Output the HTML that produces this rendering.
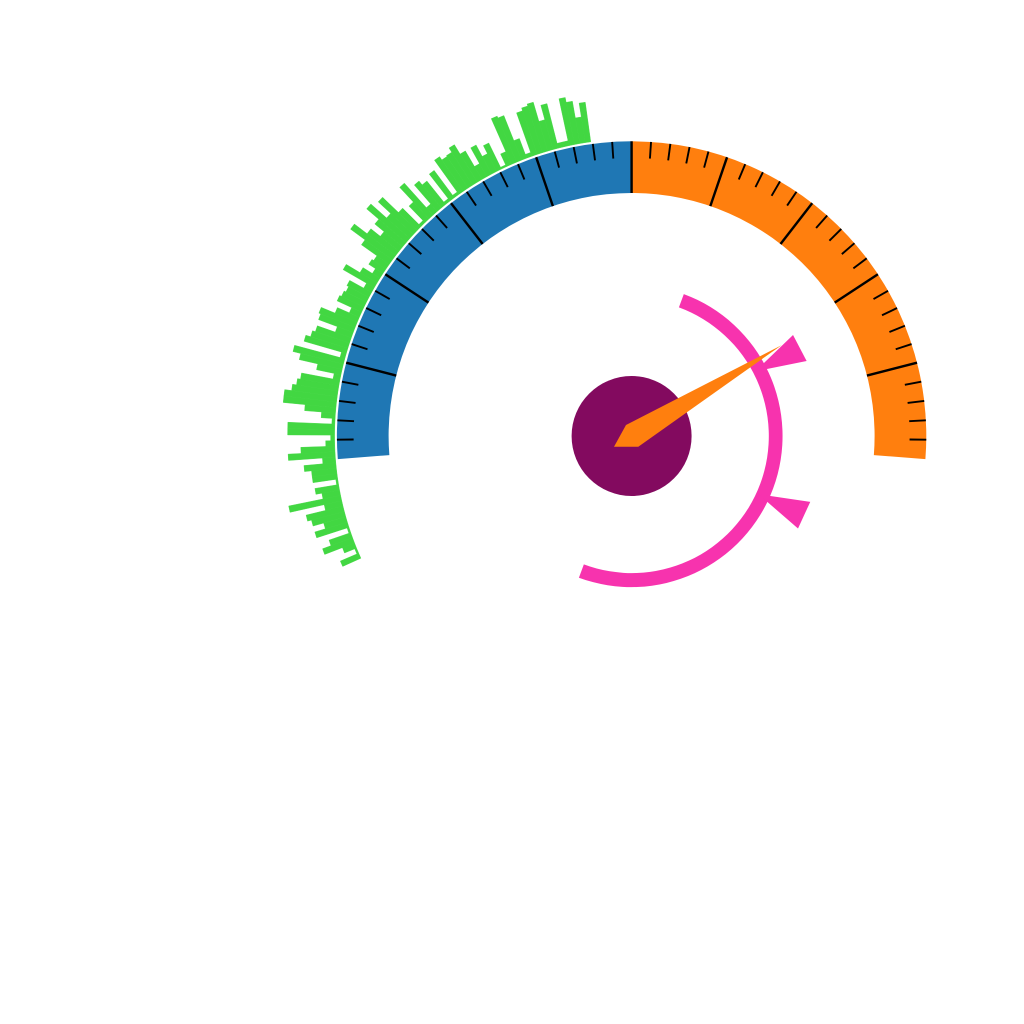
<!DOCTYPE html>
<html>
<head>
<meta charset="utf-8">
<title>Radial gauge</title>
<style>
html,body{margin:0;padding:0;background:#fff;}
svg{display:block;}
</style>
</head>
<body>
<svg id="chart" width="1024" height="1024" viewBox="0 0 1024 1024" xmlns="http://www.w3.org/2000/svg"></svg>
<script>
// ---- chart data ----
const gaugeSegments = [0, 25, 50];
const segmentNames = ['gauge-segment-blue', 'gauge-segment-orange'];
const majorTickEvery = [5];
const tickValues = [1,2,3,4,5,6,7,8,9,10,11,12,13,14,15,16,17,18,19,20,21,22,23,24,25,26,27,28,29,30,31,32,33,34,35,36,37,38,39,40,41,42,43,44,45,46,47,48,49];
const histogramHeights = [
  20,2,13,32,23,2,34,23,34,38,18,53,18,24,2,25,25,32,13,47,
  34,9,4,47,47,3,14,31,53,53,46,42,39,7,25,44,52,5,44,39,
  36,17,37,39,24,11,27,25,23,25,9,36,20,9,17,15,34,52,36,24,
  36,52,31,48,26,3,23,43,10,35,30,3,34,3,42,38,39,44,33,15,
  33,20,29,2,14,50,48,21,4,46,49,51,31,46,5,5,48,43,26,40
];
const innerArcRange = [-110.4, 69.8];
const markerAngles = [27.6, -24.65];
const needleAngle = [31.2];
const needleLength = [175.5];

// ---- scales ----
const cx = 631.6, cy = 436;
const gaugeStart = 184.5, gaugeStep = 3.78;
const histStart = 204.3, histStep = 1.064, histBase = 297;
function gaugeAngle(v){ return gaugeStart - v * gaugeStep; }
function histAngle(i){ return histStart - i * histStep; }
function histRadius(v){ return histBase + v; }
function px(r, deg){ return cx + r * Math.cos(deg * Math.PI / 180); }
function py(r, deg){ return cy - r * Math.sin(deg * Math.PI / 180); }
function pt(r, deg){ return px(r, deg).toFixed(2) + ' ' + py(r, deg).toFixed(2); }
function ringPath(r0, r1, a0, a1){
  const large = Math.abs(a1 - a0) > 180 ? 1 : 0;
  return 'M' + pt(r1, a0) + ' A' + r1 + ' ' + r1 + ' 0 ' + large + ' 1 ' + pt(r1, a1) +
         ' L' + pt(r0, a1) + ' A' + r0 + ' ' + r0 + ' 0 ' + large + ' 0 ' + pt(r0, a0) + ' Z';
}

const svg = document.getElementById('chart');
const NS = 'http://www.w3.org/2000/svg';
function add(tag, attrs){
  const el = document.createElementNS(NS, tag);
  for (const k in attrs) el.setAttribute(k, attrs[k]);
  svg.appendChild(el);
  return el;
}

// gauge segments
const segmentColors = ['#1f77b4', '#ff7f0e'];
for (let s = 0; s < gaugeSegments.length - 1; s++) {
  const seg = add('path', {d: ringPath(243, 294.7, gaugeAngle(gaugeSegments[s]), gaugeAngle(gaugeSegments[s + 1])), fill: segmentColors[s]});
  
  
}

// ticks
tickValues.forEach(function(v){
  const major = v % majorTickEvery[0] === 0;
  const a = gaugeAngle(v);
  const inner = major ? 243 : 278;
  const t = add('line', {x1: px(inner, a), y1: py(inner, a), x2: px(294.7, a), y2: py(294.7, a), stroke: '#000', 'stroke-width': major ? 2.4 : 1.9});
  
  
});

// radial histogram
histogramHeights.forEach(function(h, i){
  const a0 = histAngle(i), a1 = histAngle(i + 1);
  const r1 = histRadius(h);
  const b = add('path', {d: 'M' + pt(histBase, a0) + ' L' + pt(r1, a0) + ' L' + pt(r1, a1) + ' L' + pt(histBase, a1) + ' Z', fill: '#42d742', stroke: '#42d742', 'stroke-width': 0.4});
  
  
});

// inner arc
const innerArc = add('path', {d: ringPath(137, 151.2, innerArcRange[1], innerArcRange[0]), fill: '#f733ae'});



// range markers
markerAngles.forEach(function(a){
  const m = add('polygon', {points: [px(139.5, a) + ',' + py(139.5, a), px(190.4, a + 4.42) + ',' + py(190.4, a + 4.42), px(190.4, a - 4.42) + ',' + py(190.4, a - 4.42)].join(' '), fill: '#f733ae'});
  
  
});

// hub
const hub = add('circle', {cx: cx, cy: cy, r: 60, fill: '#830a5f'});



// needle
const needle = add('polygon', {points: [
  px(needleLength[0], needleAngle[0]) + ',' + py(needleLength[0], needleAngle[0]),
  (cx - 5.6) + ',' + (cy - 11),
  (cx - 17.6) + ',' + (cy + 10.7),
  (cx + 6.7) + ',' + (cy + 10.7)
].join(' '), fill: '#ff7f0e'});


</script>
</body>
</html>
